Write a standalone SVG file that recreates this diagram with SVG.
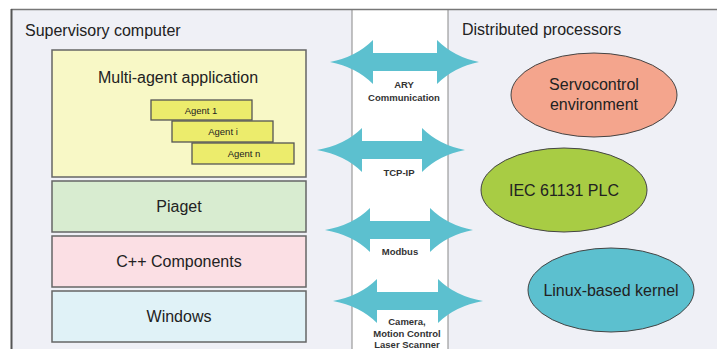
<svg xmlns="http://www.w3.org/2000/svg" width="717" height="349" viewBox="0 0 717 349">
<style>
text{font-family:"Liberation Sans",Arial,sans-serif;fill:#222}
.big{font-size:16px}
.small{font-size:9.5px}
.lbl{font-size:9.5px;font-weight:bold;fill:#333}
.layer{stroke:#666;stroke-width:1.5}
.agent{fill:#ecec6c;stroke:#555;stroke-width:1.3}
.ell{stroke:#444;stroke-width:1}
.arrow{fill:#5cc0cf}
</style>
<rect x="0" y="0" width="717" height="349" fill="#ffffff"/>
<g id="supervisory-computer">
<rect x="11" y="9" width="341" height="345" fill="#eff0f6"/>
<text class="big" x="25" y="36">Supervisory computer</text>
</g>
<g id="distributed-processors">
<rect x="448" y="9" width="275" height="345" fill="#eff0f6"/>
<text class="big" x="462" y="35">Distributed processors</text>
</g>
<rect x="352" y="9" width="96" height="345" fill="#ffffff"/>
<line x1="352" y1="9" x2="352" y2="349" stroke="#888" stroke-width="1"/>
<line x1="448" y1="9" x2="448" y2="349" stroke="#888" stroke-width="1"/>
<line x1="11" y1="9.5" x2="717" y2="9.5" stroke="#777" stroke-width="1.5"/>
<line x1="11.5" y1="9" x2="11.5" y2="349" stroke="#555" stroke-width="2"/>
<g id="multi-agent-application">
<rect class="layer" x="52" y="50" width="254" height="127" fill="#f8f8c6"/>
<text class="big" x="178" y="83" text-anchor="middle">Multi-agent application</text>
</g>
<g id="agent-1">
<rect class="agent" x="151" y="100" width="101" height="20"/>
<text class="small" x="201" y="113.5" text-anchor="middle">Agent 1</text>
</g>
<g id="agent-i">
<rect class="agent" x="172" y="121" width="101" height="21"/>
<text class="small" x="223" y="135" text-anchor="middle">Agent i</text>
</g>
<g id="agent-n">
<rect class="agent" x="192" y="143" width="102" height="21"/>
<text class="small" x="244" y="157" text-anchor="middle">Agent n</text>
</g>
<g id="piaget">
<rect class="layer" x="52" y="181" width="254" height="51" fill="#d8ecd0"/>
<text class="big" x="179" y="212" text-anchor="middle">Piaget</text>
</g>
<g id="cpp-components">
<rect class="layer" x="52" y="236" width="254" height="51" fill="#fbdfe4"/>
<text class="big" x="179" y="267" text-anchor="middle">C++ Components</text>
</g>
<g id="windows">
<rect class="layer" x="52" y="291" width="254" height="51" fill="#e0f2f7"/>
<text class="big" x="179" y="322" text-anchor="middle">Windows</text>
</g>
<g id="servocontrol">
<ellipse class="ell" cx="594" cy="95" rx="83" ry="42" fill="#f4a58d"/>
<text class="big" x="594" y="90" text-anchor="middle">Servocontrol</text>
<text class="big" x="594" y="110" text-anchor="middle">environment</text>
</g>
<g id="iec-plc">
<ellipse class="ell" cx="564" cy="190" rx="83" ry="42" fill="#a8cc44"/>
<text class="big" x="564" y="196" text-anchor="middle">IEC 61131 PLC</text>
</g>
<g id="linux-kernel">
<ellipse class="ell" cx="611" cy="290" rx="83" ry="42" fill="#5cc0cf"/>
<text class="big" x="611" y="296" text-anchor="middle">Linux-based kernel</text>
</g>
<g id="connectors">
<path class="arrow" d="M330,62 Q356,57 373,40 L373,53 L437,53 L437,40 Q454,57 479,62 Q454,67 437,84 L437,71 L373,71 L373,84 Q356,67 330,62 Z"/>
<path class="arrow" d="M317,150 Q345,145 362,128 L362,141 L422,141 L422,128 Q439,145 465,150 Q439,155 422,172 L422,159 L362,159 L362,172 Q345,155 317,150 Z"/>
<path class="arrow" d="M325,230 Q353,225 370,208 L370,221 L430,221 L430,208 Q447,225 473,230 Q447,235 430,252 L430,239 L370,239 L370,252 Q353,235 325,230 Z"/>
<path class="arrow" d="M333,301 Q360,296 377,279 L377,292 L438,292 L438,279 Q455,296 483,301 Q455,306 438,323 L438,310 L377,310 L377,323 Q360,306 333,301 Z"/>
<text class="lbl" x="404" y="88" text-anchor="middle">ARY</text>
<text class="lbl" x="404" y="101" text-anchor="middle">Communication</text>
<text class="lbl" x="399" y="176" text-anchor="middle">TCP-IP</text>
<text class="lbl" x="400" y="255" text-anchor="middle">Modbus</text>
<text class="lbl" x="407" y="325" text-anchor="middle">Camera,</text>
<text class="lbl" x="407" y="336.5" text-anchor="middle">Motion Control</text>
<text class="lbl" x="407" y="348" text-anchor="middle">Laser Scanner</text>
</g>
</svg>
